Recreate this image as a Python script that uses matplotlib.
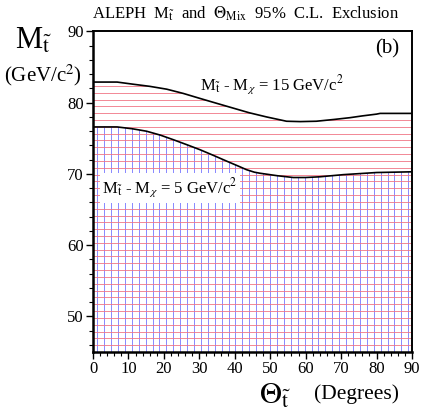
import matplotlib
matplotlib.use("Agg")
import matplotlib.pyplot as plt
from matplotlib.patches import Polygon, Rectangle
from matplotlib.ticker import MultipleLocator
import numpy as np

plt.rcParams["font.family"] = ["Liberation Serif", "DejaVu Serif"]
plt.rcParams["mathtext.fontset"] = "stix"

# exclusion contour, dM = 15 GeV/c^2
theta_15 = [0, 6.8, 11.3, 16, 20.8, 25.5, 30.2, 35, 39.5, 44, 49, 54.6, 58.5, 63, 68, 72.5, 76, 80, 81, 90]
mass_15 = [82.9, 82.9, 82.6, 82.3, 81.9, 81.3, 80.6, 79.9, 79.25, 78.6, 78.0, 77.4, 77.35, 77.4, 77.65, 77.9, 78.15, 78.4, 78.5, 78.5]

# exclusion contour, dM = 5 GeV/c^2
theta_5 = [0, 6.8, 11, 15.1, 19, 22.7, 26.5, 30.2, 34, 37.7, 41, 43.3, 45.5, 47.1, 52, 56.5, 60, 64, 70.6, 80, 90]
mass_5 = [76.6, 76.6, 76.35, 76.0, 75.45, 74.8, 74.1, 73.4, 72.6, 71.8, 71.1, 70.6, 70.25, 70.1, 69.75, 69.5, 69.5, 69.6, 69.9, 70.2, 70.3]

x_min, x_max = 0, 90
y_min, y_max = 45, 90

fig = plt.figure(figsize=(4.23, 4.15), dpi=100)
ax = fig.add_axes([0.2199, 0.1518, 0.7541, 0.7723])
ax.set_xlim(x_min, x_max)
ax.set_ylim(y_min, y_max)

# clip regions below each contour
poly_15 = Polygon([(theta_15[0], y_min)] + list(zip(theta_15, mass_15)) + [(theta_15[-1], y_min)],
                  closed=True, facecolor="none", edgecolor="none")
poly_5 = Polygon([(theta_5[0], y_min)] + list(zip(theta_5, mass_5)) + [(theta_5[-1], y_min)],
                 closed=True, facecolor="none", edgecolor="none")
ax.add_patch(poly_15)
ax.add_patch(poly_5)

# hatching: blue verticals below 5 GeV contour, red horizontals below 15 GeV contour
vx = np.arange(1.2, x_max, 1.95)
vl = ax.vlines(vx, y_min, y_max, colors="#8080ff", linewidth=0.65, zorder=1)
vl.set_clip_path(poly_5)
hy = np.arange(y_min + 0.958, y_max, 0.958)
hl = ax.hlines(hy, x_min, x_max, colors="#f07585", linewidth=0.6, zorder=2)
hl.set_clip_path(poly_15)

ax.plot(theta_15, mass_15, color="black", linewidth=1.2, zorder=4)
ax.plot(theta_5, mass_5, color="black", linewidth=1.2, zorder=4)

# labels on the contours
ax.add_patch(Rectangle((2.0, 65.95), 39.5, 4.2, facecolor="white", edgecolor="none", zorder=3))
ax.text(21.7, 68.0, r"M$_{\tilde{\rm t}}$ - M$_{\chi}$ = 5 GeV/c$^2$", fontsize=12,
        ha="center", va="center", zorder=5)
ax.text(50.5, 82.5, r"M$_{\tilde{\rm t}}$ - M$_{\chi}$ = 15 GeV/c$^2$", fontsize=12,
        ha="center", va="center", zorder=5)
ax.text(83.0, 87.6, "(b)", fontsize=15, ha="center", va="center", zorder=5)

# axes styling
ax.xaxis.set_major_locator(MultipleLocator(10))
ax.xaxis.set_minor_locator(MultipleLocator(2))
ax.yaxis.set_major_locator(MultipleLocator(10))
ax.yaxis.set_minor_locator(MultipleLocator(2))
ax.tick_params(which="major", length=5, width=1.0, labelsize=12, pad=1.5)
ax.tick_params(which="minor", length=3, width=0.8)
for side in ["left", "bottom"]:
    ax.spines[side].set_linewidth(1.8)
for side in ["top", "right"]:
    ax.spines[side].set_linewidth(1.4)
for s in ax.spines.values():
    s.set_zorder(6)

fig.text(0.58, 0.967, r"ALEPH  M$_{\tilde{\rm t}}$  and  $\Theta_{\rm Mix}$  95%  C.L.  Exclusion",
         fontsize=12, ha="center", va="center")
fig.text(0.08, 0.9, r"M$_{\tilde{\rm t}}$", fontsize=22, ha="center", va="center")
fig.text(0.102, 0.818, r"(GeV/c$^2$)", fontsize=15, ha="center", va="center")
fig.text(0.65, 0.045, r"$\Theta_{\tilde{\rm t}}$", fontsize=22, ha="center", va="center")
fig.text(0.842, 0.05, "(Degrees)", fontsize=15.5, ha="center", va="center")

fig.savefig("out.png", dpi=100)
